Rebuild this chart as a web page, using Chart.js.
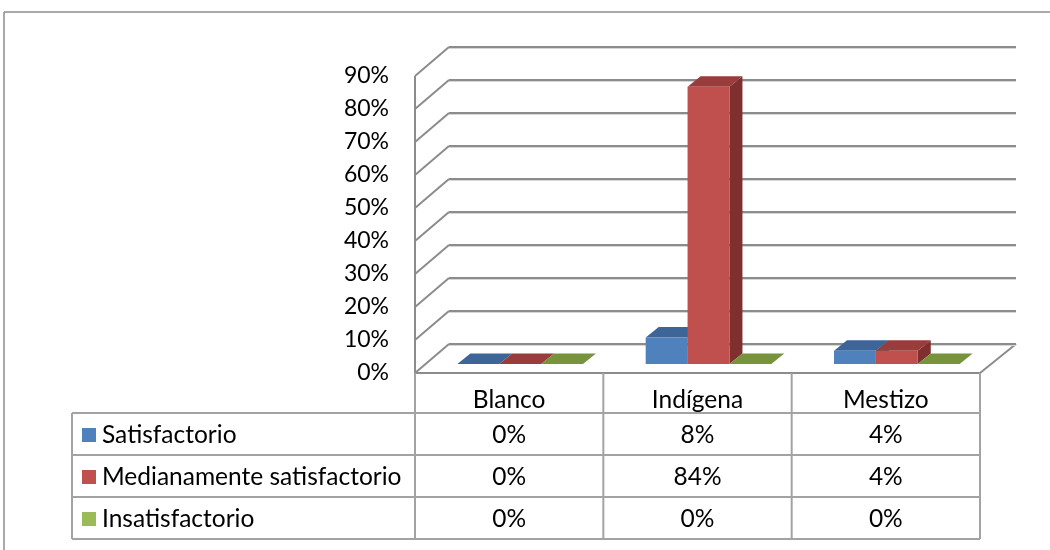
<!DOCTYPE html>
<html lang="es">
<head>
<meta charset="utf-8">
<title>Satisfacción por grupo étnico</title>
<script src="https://cdn.jsdelivr.net/npm/chart.js@4.4.1/dist/chart.umd.min.js"></script>
<style>
  html, body { margin: 0; padding: 0; background: #fff; }
  #wrap { position: relative; width: 1050px; height: 550px; }
</style>
</head>
<body>
<div id="wrap"><canvas id="grafico" width="1050" height="550"></canvas></div>
<script>
// Datos del gráfico
const categorias = ['Blanco', 'Indígena', 'Mestizo'];
const nombresSeries = ['Satisfactorio', 'Medianamente satisfactorio', 'Insatisfactorio'];
const satisfactorio = [0, 0.08, 0.04];
const medianamente = [0, 0.84, 0.04];
const insatisfactorio = [0, 0, 0];
const ticksY = [0, 0.1, 0.2, 0.3, 0.4, 0.5, 0.6, 0.7, 0.8, 0.9];

// Colores por serie: cara frontal, superior y lateral
const colores = [
  { frente: '#4f81bd', arriba: '#3d6598', lado: '#385d8a' },
  { frente: '#c0504d', arriba: '#983d3b', lado: '#7f2f2d' },
  { frente: '#9bbb59', arriba: '#77933c', lado: '#6f8a38' }
];

const FUENTE = 'Lato, "Open Sans", sans-serif';
const LINEA = '#8c8c8c';
const LINEA_TABLA = '#a3a3a3';

// Profundidad de las paredes y de las barras (efecto 3D)
const PARED = { dx: 34, dy: 29 };
const DESPLAZ_BARRAS = { dx: 11, dy: 9 };
const PROF_BARRA = { dx: 13, dy: 10.5 };

function porcentaje(v) {
  return Math.round(v * 100) + '%';
}

function poligono(ctx, puntos, relleno) {
  ctx.beginPath();
  ctx.moveTo(puntos[0][0], puntos[0][1]);
  for (let i = 1; i < puntos.length; i++) ctx.lineTo(puntos[i][0], puntos[i][1]);
  ctx.closePath();
  ctx.fillStyle = relleno;
  ctx.fill();
}

function linea(ctx, x1, y1, x2, y2, color, ancho) {
  ctx.beginPath();
  ctx.moveTo(x1, y1);
  ctx.lineTo(x2, y2);
  ctx.strokeStyle = color;
  ctx.lineWidth = ancho;
  ctx.stroke();
}

/**
 * Paredes, piso y barras con caras laterales/superiores
 */
const escena3d = {
  id: 'escena3d',
  beforeDatasetsDraw(chart) {
    const ctx = chart.ctx;
    const area = chart.chartArea;
    const y = chart.scales.y;
    const base = y.getPixelForValue(0);

    ctx.save();
    // piso
    poligono(ctx, [
      [area.left, base], [area.right, base],
      [area.right + PARED.dx, base - PARED.dy], [area.left + PARED.dx, base - PARED.dy]
    ], '#ffffff');
    linea(ctx, area.left, base, area.right, base, LINEA, 2);
    linea(ctx, area.right, base, area.right + PARED.dx + 2, base - PARED.dy, LINEA, 2);

    // pared izquierda: borde frontal
    linea(ctx, area.left, base, area.left, y.getPixelForValue(ticksY[ticksY.length - 1]), LINEA, 2);

    // líneas de división en pared izquierda y pared de fondo
    ticksY.forEach(v => {
      const py = y.getPixelForValue(v);
      linea(ctx, area.left, py, area.left + PARED.dx, py - PARED.dy, LINEA, 2);
      linea(ctx, area.left + PARED.dx, py - PARED.dy + 1.5, area.right + PARED.dx + 2, py - PARED.dy + 1.5, '#d6d6d6', 1);
      linea(ctx, area.left + PARED.dx, py - PARED.dy, area.right + PARED.dx + 2, py - PARED.dy, LINEA, 2);
    });

    // las barras van a media profundidad del piso; cada serie tapa el lateral de la anterior
    ctx.translate(DESPLAZ_BARRAS.dx, -DESPLAZ_BARRAS.dy);
    const { dx, dy } = PROF_BARRA;
    for (let s = 0; s < chart.data.datasets.length; s++) {
      const c = colores[s];
      chart.getDatasetMeta(s).data.forEach(barra => {
        const p = barra.getProps(['x', 'y', 'base', 'width'], true);
        const izq = p.x - p.width / 2;
        const der = p.x + p.width / 2;
        if (p.base - p.y > 0.5) {
          poligono(ctx, [[der, p.y], [der + dx, p.y - dy], [der + dx, p.base - dy], [der, p.base]], c.lado);
        }
        poligono(ctx, [[izq, p.y], [der, p.y], [der + dx, p.y - dy], [izq + dx, p.y - dy]], c.arriba);
        barra.draw(ctx);
      });
    }
    ctx.restore();
    return false;
  },
  afterDraw(chart) {
    dibujarTabla(chart);
  }
};

/**
 * Tabla de datos bajo el eje de categorías
 */
function dibujarTabla(chart) {
  const ctx = chart.ctx;
  const area = chart.chartArea;
  const x = chart.scales.x;
  const top = chart.scales.y.getPixelForValue(0);
  const anchoCat = (area.right - area.left) / categorias.length;
  const xLeyenda = 72;
  const filas = [top, 413, 455, 497, 539];
  const valores = [satisfactorio, medianamente, insatisfactorio];

  ctx.save();
  // líneas horizontales de las filas de datos
  for (let i = 1; i < filas.length; i++) {
    linea(ctx, xLeyenda, filas[i], area.right, filas[i], LINEA_TABLA, 2);
  }
  // columnas
  linea(ctx, xLeyenda, filas[1], xLeyenda, filas[4], LINEA_TABLA, 2);
  for (let i = 0; i <= categorias.length; i++) {
    const cx = area.left + i * anchoCat;
    linea(ctx, cx, top, cx, filas[4], LINEA_TABLA, 2);
  }

  ctx.fillStyle = '#000';
  ctx.font = '24.5px ' + FUENTE;
  ctx.textBaseline = 'middle';
  ctx.textAlign = 'center';
  categorias.forEach((cat, i) => {
    ctx.fillText(cat, x.getPixelForValue(i), 400);
  });

  nombresSeries.forEach((nombre, s) => {
    const cy = (filas[s + 1] + filas[s + 2]) / 2 + 1;
    ctx.fillStyle = colores[s].frente;
    ctx.fillRect(82, cy - 7, 14, 14);
    ctx.fillStyle = '#000';
    ctx.textAlign = 'left';
    ctx.fillText(nombre, 102, cy);
    ctx.textAlign = 'center';
    valores[s].forEach((v, i) => {
      ctx.fillText(porcentaje(v), x.getPixelForValue(i), cy);
    });
  });

  // marco exterior
  linea(ctx, 4, 12, 1050, 12, LINEA, 1.5);
  linea(ctx, 4, 12, 4, 550, LINEA, 1.5);
  ctx.restore();
}

const ctx = document.getElementById('grafico').getContext('2d');
const grafico = new Chart(ctx, {
  type: 'bar',
  data: {
    labels: categorias,
    datasets: [
      { label: nombresSeries[0], data: satisfactorio, backgroundColor: colores[0].frente },
      { label: nombresSeries[1], data: medianamente, backgroundColor: colores[1].frente },
      { label: nombresSeries[2], data: insatisfactorio, backgroundColor: colores[2].frente }
    ]
  },
  options: {
    responsive: false,
    animation: false,
    devicePixelRatio: 1,
    layout: {
      padding: { top: 76, bottom: 177, left: 0, right: 70 }
    },
    datasets: {
      bar: {
        categoryPercentage: 0.667,
        barPercentage: 1,
        borderWidth: 0
      }
    },
    plugins: {
      legend: { display: false },
      tooltip: { enabled: false },
      title: { display: false }
    },
    scales: {
      x: {
        display: false,
        offset: true
      },
      y: {
        min: 0,
        max: 0.9,
        grid: { display: false, drawTicks: false },
        border: { display: false },
        ticks: {
          stepSize: 0.1,
          padding: 26,
          color: '#000',
          font: { family: FUENTE, size: 23 },
          callback: v => porcentaje(v)
        },
        afterFit(scale) {
          scale.width = 415;
        }
      }
    }
  },
  plugins: [escena3d]
});
</script>
</body>
</html>
